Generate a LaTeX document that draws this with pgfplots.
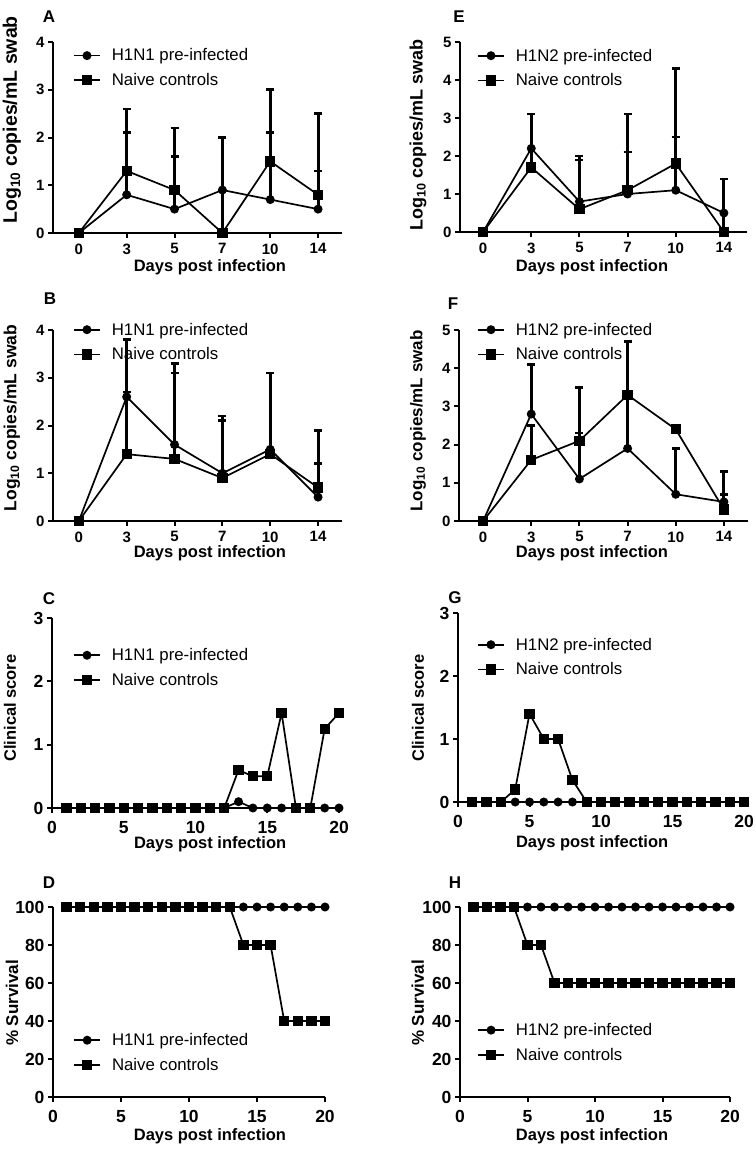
\documentclass[border=0pt]{standalone}
\usepackage{fontspec}
\setmainfont{Liberation Sans}
\usepackage{pgfplots}
\pgfplotsset{compat=1.18}
\pgfplotsset{
  gp/.style={
    scale only axis,
    axis x line*=bottom, axis y line*=left,
    axis line style={line width=2pt, black},
    every tick/.style={line width=2pt, black},
    tick align=outside, major tick length=5pt, minor tick num=0,
    /pgf/number format/assume math mode=true,
    ticklabel style={font=\bfseries\fontsize{15}{15}\selectfont, black},
    xticklabel style={yshift=-2pt},
    label style={font=\bfseries\fontsize{16.5}{18}\selectfont},
    xlabel style={anchor=center},
    ylabel style={anchor=center},
    clip=false,
    legend image code/.code={\draw[mark repeat=2,mark phase=2,#1] plot coordinates {(0pt,0pt) (13pt,0pt) (26pt,0pt)};},
    legend style={draw=none, fill=none, inner sep=0pt, anchor=west, font=\fontsize{16.8}{18}\selectfont, row sep=7pt, column sep=9pt, nodes={inner sep=2pt}},
    legend cell align=left,
    every axis plot/.append style={black, line width=1.7pt},
  },
  big/.style={ticklabel style={font=\bfseries\fontsize{17.5}{17.5}\selectfont}, xticklabel style={yshift=-3pt}},
  yfs/.style={ylabel style={font=\bfseries\fontsize{#1}{#1}\selectfont}},
  circ/.style={mark=*, mark size=3.6pt},
  sq/.style={mark=square*, mark size=4.3pt},
  err/.style={error bars/.cd, y dir=plus, y explicit, error bar style={line width=3pt}, error mark options={line width=2.5pt, mark size=4pt, rotate=90}},
  cat/.style={xtick={0,...,5}, xticklabels={0,3,5,7,10,14}, xmin=-0.54, xmax=5.5},
}
\begin{document}
\begin{tikzpicture}
\useasboundingbox (0,0) rectangle (755pt,-1150pt);
\tikzset{lab/.style={font=\bfseries\fontsize{17}{17}\selectfont}}
\node[lab] at (49pt,-17pt) {A};
\node[lab] at (459pt,-17pt) {E};
\node[lab] at (50pt,-299pt) {B};
\node[lab] at (453pt,-304pt) {F};
\node[lab] at (49pt,-599pt) {C};
\node[lab] at (455pt,-598pt) {G};
\node[lab] at (49pt,-883pt) {D};
\node[lab] at (455pt,-883pt) {H};

% Panel A
\begin{axis}[gp, cat, yfs=19.5, at={(53pt,-233pt)}, anchor=south west, width=289pt, height=191pt,
  ymin=0, ymax=4, ytick={0,1,2,3,4},
  xlabel={Days post infection}, ylabel={Log\textsubscript{10} copies/mL swab},
  xlabel style={at={(axis description cs:0.543,-0.178)}},
  ylabel style={at={(axis description cs:-0.142,0.592)}},
  legend style={at={(axis description cs:0.069,0.864)}}]
\addplot[circ, err] coordinates {(0,0) +- (0,0) (1,0.8) +- (0,1.3) (2,0.5) +- (0,1.1) (3,0.9) +- (0,1.1) (4,0.7) +- (0,1.4) (5,0.5) +- (0,0.8)};
\addplot[sq, err] coordinates {(0,0) +- (0,0) (1,1.3) +- (0,1.3) (2,0.9) +- (0,1.3) (3,0) +- (0,2.0) (4,1.5) +- (0,1.5) (5,0.8) +- (0,1.7)};
\legend{H1N1 pre-infected, Naive controls}
\end{axis}

% Panel E
\begin{axis}[gp, cat, yfs=18, at={(460pt,-232pt)}, anchor=south west, width=287pt, height=190pt,
  xmin=-0.48, xmax=5.48,
  ymin=0, ymax=5, ytick={0,1,2,3,4,5},
  xlabel={Days post infection}, ylabel={Log\textsubscript{10} copies/mL swab},
  xlabel style={at={(axis description cs:0.46,-0.184)}},
  ylabel style={at={(axis description cs:-0.146,0.51)}},
  legend style={at={(axis description cs:0.059,0.863)}}]
\addplot[circ, err] coordinates {(0,0) +- (0,0) (1,2.2) +- (0,0.9) (2,0.8) +- (0,1.2) (3,1.0) +- (0,1.1) (4,1.1) +- (0,1.4) (5,0.5) +- (0,0.9)};
\addplot[sq, err] coordinates {(0,0) +- (0,0) (1,1.7) +- (0,0.5) (2,0.6) +- (0,1.3) (3,1.1) +- (0,2.0) (4,1.8) +- (0,2.5) (5,0) +- (0,1.4)};
\legend{H1N2 pre-infected, Naive controls}
\end{axis}

% Panel B
\begin{axis}[gp, cat, yfs=17.5, at={(53pt,-521pt)}, anchor=south west, width=289pt, height=191pt,
  ymin=0, ymax=4, ytick={0,1,2,3,4},
  xlabel={Days post infection}, ylabel={Log\textsubscript{10} copies/mL swab},
  xlabel style={at={(axis description cs:0.543,-0.17)}},
  ylabel style={at={(axis description cs:-0.142,0.539)}},
  legend style={at={(axis description cs:0.069,0.937)}}]
\addplot[circ, err] coordinates {(0,0) +- (0,0) (1,2.6) +- (0,1.2) (2,1.6) +- (0,1.7) (3,1.0) +- (0,1.2) (4,1.5) +- (0,1.6) (5,0.5) +- (0,0.7)};
\addplot[sq, err] coordinates {(0,0) +- (0,0) (1,1.4) +- (0,1.3) (2,1.3) +- (0,1.8) (3,0.9) +- (0,1.2) (4,1.4) +- (0,0) (5,0.7) +- (0,1.2)};
\legend{H1N1 pre-infected, Naive controls}
\end{axis}

% Panel F
\begin{axis}[gp, cat, yfs=17, at={(459pt,-521pt)}, anchor=south west, width=289pt, height=191pt,
  xmin=-0.5, xmax=5.5,
  ymin=0, ymax=5, ytick={0,1,2,3,4,5},
  xlabel={Days post infection}, ylabel={Log\textsubscript{10} copies/mL swab},
  xlabel style={at={(axis description cs:0.46,-0.17)}},
  ylabel style={at={(axis description cs:-0.142,0.524)}},
  legend style={at={(axis description cs:0.062,0.937)}}]
\addplot[circ, err] coordinates {(0,0) +- (0,0) (1,2.8) +- (0,1.3) (2,1.1) +- (0,2.4) (3,1.9) +- (0,2.8) (4,0.7) +- (0,1.2) (5,0.5) +- (0,0.8)};
\addplot[sq, err] coordinates {(0,0) +- (0,0) (1,1.6) +- (0,0.9) (2,2.1) +- (0,0.2) (3,3.3) +- (0,0) (4,2.4) +- (0,0) (5,0.3) +- (0,0.4)};
\legend{H1N2 pre-infected, Naive controls}
\end{axis}

% Panel C
\begin{axis}[gp, big, at={(52pt,-808pt)}, anchor=south west, width=287pt, height=190pt,
  xmin=0, xmax=20, xtick={0,5,10,15,20}, ymin=0, ymax=3, ytick={0,1,2,3},
  xlabel={Days post infection}, ylabel={Clinical score},
  xlabel style={at={(axis description cs:0.551,-0.19)}},
  ylabel style={at={(axis description cs:-0.146,0.526)}},
  legend style={at={(axis description cs:0.073,0.739)}}]
\addplot[circ] coordinates {(1,0) (2,0) (3,0) (4,0) (5,0) (6,0) (7,0) (8,0) (9,0) (10,0) (11,0) (12,0) (13,0.1) (14,0) (15,0) (16,0) (17,0) (18,0) (19,0) (20,0)};
\addplot[sq] coordinates {(1,0) (2,0) (3,0) (4,0) (5,0) (6,0) (7,0) (8,0) (9,0) (10,0) (11,0) (12,0) (13,0.6) (14,0.5) (15,0.5) (16,1.5) (17,0) (18,0) (19,1.25) (20,1.5)};
\legend{H1N1 pre-infected, Naive controls}
\end{axis}

% Panel G
\begin{axis}[gp, big, at={(458pt,-802pt)}, anchor=south west, width=286pt, height=189pt,
  xmin=0, xmax=20, xtick={0,5,10,15,20}, ymin=0, ymax=3, ytick={0,1,2,3},
  xlabel={Days post infection}, ylabel={Clinical score},
  xlabel style={at={(axis description cs:0.469,-0.217)}},
  ylabel style={at={(axis description cs:-0.14,0.497)}},
  legend style={at={(axis description cs:0.066,0.767)}}]
\addplot[circ] coordinates {(1,0) (2,0) (3,0) (4,0) (5,0) (6,0) (7,0) (8,0) (9,0) (10,0) (11,0) (12,0) (13,0) (14,0) (15,0) (16,0) (17,0) (18,0) (19,0) (20,0)};
\addplot[sq] coordinates {(1,0) (2,0) (3,0) (4,0.2) (5,1.4) (6,1.0) (7,1.0) (8,0.35) (9,0) (10,0) (11,0) (12,0) (13,0) (14,0) (15,0) (16,0) (17,0) (18,0) (19,0) (20,0)};
\legend{H1N2 pre-infected, Naive controls}
\end{axis}

% Panel D
\begin{axis}[gp, big, yfs=17, at={(53pt,-1097pt)}, anchor=south west, width=272pt, height=190pt,
  xmin=0, xmax=20, xtick={0,5,10,15,20}, ymin=0, ymax=100, ytick={0,20,40,60,80,100},
  xlabel={Days post infection}, ylabel={\% Survival},
  xlabel style={at={(axis description cs:0.577,-0.205)}},
  ylabel style={at={(axis description cs:-0.151,0.495)}},
  legend style={at={(axis description cs:0.074,0.234)}}]
\addplot[circ] coordinates {(1,100) (2,100) (3,100) (4,100) (5,100) (6,100) (7,100) (8,100) (9,100) (10,100) (11,100) (12,100) (13,100) (14,100) (15,100) (16,100) (17,100) (18,100) (19,100) (20,100)};
\addplot[sq] coordinates {(1,100) (2,100) (3,100) (4,100) (5,100) (6,100) (7,100) (8,100) (9,100) (10,100) (11,100) (12,100) (13,100) (14,80) (15,80) (16,80) (17,40) (18,40) (19,40) (20,40)};
\legend{H1N1 pre-infected, Naive controls}
\end{axis}

% Panel H
\begin{axis}[gp, big, yfs=17, at={(460pt,-1097pt)}, anchor=south west, width=270pt, height=190pt,
  xmin=0, xmax=20, xtick={0,5,10,15,20}, ymin=0, ymax=100, ytick={0,20,40,60,80,100},
  xlabel={Days post infection}, ylabel={\% Survival},
  xlabel style={at={(axis description cs:0.489,-0.205)}},
  ylabel style={at={(axis description cs:-0.156,0.495)}},
  legend style={at={(axis description cs:0.063,0.287)}}]
\addplot[circ] coordinates {(1,100) (2,100) (3,100) (4,100) (5,100) (6,100) (7,100) (8,100) (9,100) (10,100) (11,100) (12,100) (13,100) (14,100) (15,100) (16,100) (17,100) (18,100) (19,100) (20,100)};
\addplot[sq] coordinates {(1,100) (2,100) (3,100) (4,100) (5,80) (6,80) (7,60) (8,60) (9,60) (10,60) (11,60) (12,60) (13,60) (14,60) (15,60) (16,60) (17,60) (18,60) (19,60) (20,60)};
\legend{H1N2 pre-infected, Naive controls}
\end{axis}
\end{tikzpicture}
\end{document}
